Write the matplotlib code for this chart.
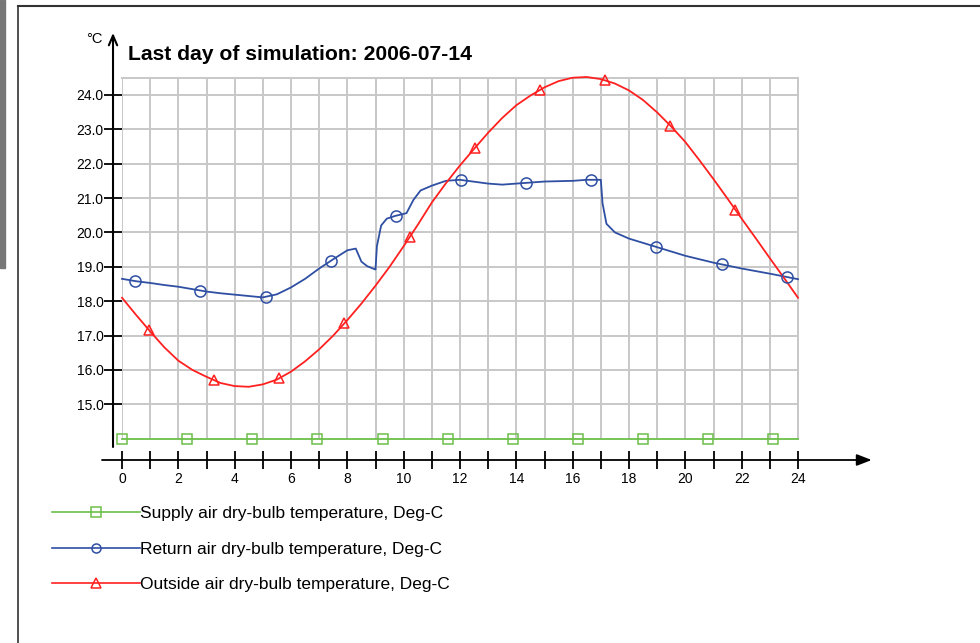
import numpy as np
import matplotlib.pyplot as plt
from matplotlib.lines import Line2D
from matplotlib.patches import Rectangle

plt.rcParams['font.family'] = ['Liberation Sans', 'DejaVu Sans']

# hours of the day
hours = list(range(25))
supply_temp = [14.0] * 25

# outside air read every half hour
outside_hours = [h / 2 for h in range(49)]
outside_temp = [18.10, 17.60, 17.12, 16.66, 16.27, 16.00, 15.80, 15.62, 15.53, 15.51,
                15.58, 15.72, 15.95, 16.25, 16.60, 17.00, 17.45, 17.93, 18.45, 19.00,
                19.60, 20.22, 20.87, 21.43, 21.95, 22.43, 22.90, 23.33, 23.70, 23.98,
                24.22, 24.40, 24.50, 24.52, 24.46, 24.33, 24.13, 23.85, 23.49, 23.08,
                22.63, 22.10, 21.55, 20.98, 20.40, 19.83, 19.25, 18.68, 18.10]

# return air has sharp steps, so it is read at uneven times
return_hours = [0, 0.5, 1, 1.5, 2, 2.5, 3, 3.5, 4, 4.5, 5, 5.5, 6, 6.5, 7, 7.5, 8, 8.3,
                8.5, 8.7, 9.0, 9.05, 9.2, 9.4, 9.7, 10.1, 10.35, 10.6, 11.0, 11.5, 12,
                13, 13.5, 14, 15, 16, 16.5, 17.0, 17.06, 17.2, 17.5, 18, 19, 20, 21,
                22, 23, 24]
return_temp = [18.65, 18.58, 18.53, 18.47, 18.42, 18.35, 18.28, 18.23, 18.19, 18.15,
               18.11, 18.20, 18.40, 18.65, 18.95, 19.22, 19.48, 19.53, 19.15, 19.02,
               18.92, 19.60, 20.20, 20.40, 20.48, 20.56, 20.95, 21.22, 21.36, 21.50,
               21.53, 21.42, 21.39, 21.42, 21.48, 21.50, 21.53, 21.53, 20.85, 20.25,
               20.00, 19.82, 19.57, 19.32, 19.12, 18.95, 18.80, 18.64]

yticks = [15, 16, 17, 18, 19, 20, 21, 22, 23, 24]

labels = ["Supply air dry-bulb temperature, Deg-C",
          "Return air dry-bulb temperature, Deg-C",
          "Outside air dry-bulb temperature, Deg-C"]

# markers every ~2.31 h, each series shifted a bit
marker_step = 2.313
marker_start = [0.0, 0.47, 0.96]

green = "#6cbf4a"
blue = "#2f4fa3"
red = "#ff2020"

fig = plt.figure(figsize=(9.8, 6.43), dpi=100)
ax = fig.add_axes([122 / 980, 1 - 438.7 / 643, 676 / 980, 361 / 643])

series = [
    (hours, supply_temp, green, "s"),
    (return_hours, return_temp, blue, "o"),
    (outside_hours, outside_temp, red, "^"),
]
handles = []
for (xs, ys, col, mk), start in zip(series, marker_start):
    ax.plot(xs, ys, color=col, lw=1.3, clip_on=False, zorder=3)
    mh = np.arange(start, 24, marker_step)
    ax.plot(mh, np.interp(mh, xs, ys), ls="none", marker=mk, mfc="none",
            mec=col, ms=7.5 if mk != "o" else 8, mew=1.1, clip_on=False, zorder=4)
    handles.append(Line2D([], [], color=col, lw=1.2, marker=mk, mfc="none",
                          mec=col, ms=6.5, mew=1.1))

ax.set_xlim(0, 24)
ax.set_ylim(14, 24.5)
ax.set_xticks(hours)
ax.set_xticklabels([str(h) if h % 2 == 0 else "" for h in hours])
ax.set_yticks(yticks)
ax.set_yticklabels([f"{v:.1f}" for v in yticks])

ax.grid(True, color="#c8c8c8", lw=1.4)
ax.set_axisbelow(True)
for s in ["top", "right"]:
    ax.spines[s].set_color("#c8c8c8")
    ax.spines[s].set_linewidth(1.4)
ax.spines["left"].set_position(("outward", 6.5))
ax.spines["bottom"].set_position(("outward", 15.3))
ax.spines["left"].set_color("none")
ax.spines["bottom"].set_color("none")
ax.tick_params(axis="y", direction="inout", length=12.5, width=1.3, pad=0.5,
               labelsize=10, colors="black")
ax.tick_params(axis="x", direction="inout", length=12.7, width=1.3, pad=2.5,
               labelsize=10, colors="black")

# axis lines with arrow heads
ax.annotate("", xy=(1.109, -0.059), xytext=(-0.0296, -0.059), xycoords="axes fraction",
            arrowprops=dict(arrowstyle="-|>,head_length=0.9,head_width=0.35",
                            color="black", lw=1.3, shrinkA=0, shrinkB=0))
ax.annotate("", xy=(-0.0133, 1.124), xytext=(-0.0133, -0.023), xycoords="axes fraction",
            arrowprops=dict(arrowstyle="->,head_length=0.7,head_width=0.3",
                            color="black", lw=1.5, shrinkA=0, shrinkB=0))

fig.text(128 / 980, 1 - 60 / 643, "Last day of simulation: 2006-07-14",
         fontsize=15.2, fontweight="bold", va="baseline")
fig.text(102 / 980, 1 - 43 / 643, "°C", fontsize=10.5, ha="right", va="baseline")

fig.legend(handles, labels, loc="upper left", bbox_to_anchor=(52 / 980, 1 - 506 / 643),
           frameon=False, fontsize=12.5, handlelength=5.05, handletextpad=0.0,
           labelspacing=1.17, borderpad=0, borderaxespad=0, numpoints=1)

# page frame
fig.add_artist(Line2D([18 / 980, 18 / 980], [0, 1 - 6 / 643], color="#333333", lw=1.2,
                      transform=fig.transFigure))
fig.add_artist(Line2D([18 / 980, 1], [1 - 6 / 643, 1 - 6 / 643], color="#333333",
                      lw=1.5, transform=fig.transFigure))
fig.add_artist(Rectangle((0, 1 - 268 / 643), 5 / 980, 268 / 643, color="#777777",
                         transform=fig.transFigure))

plt.savefig("out.png", dpi=100)
